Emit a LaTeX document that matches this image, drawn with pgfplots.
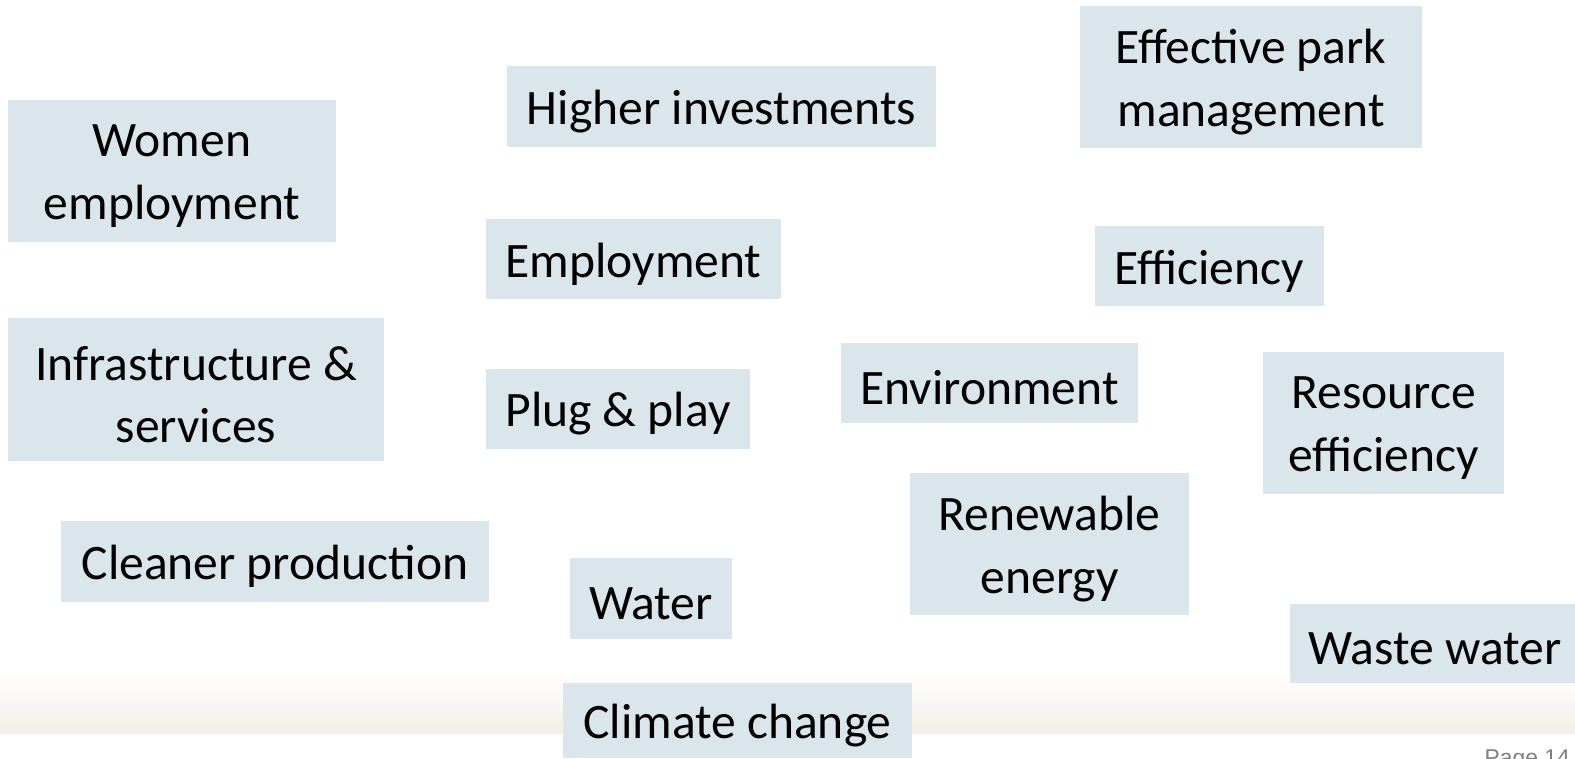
\documentclass[border=0pt]{standalone}
\usepackage{pgfplots}
\pgfplotsset{compat=1.18}
\usepackage{fontspec}
\setmainfont{Carlito}
\newfontfamily\pagefont{Liberation Sans}
\definecolor{boxc}{HTML}{DAE6EC}
\definecolor{bandc}{HTML}{F3EFE8}
\definecolor{pagec}{HTML}{7F7F7F}
\newcommand{\bx}[5]{%
  \fill[boxc] (axis cs:#1,#2) rectangle (axis cs:#3,#4);
  \node[align=center, inner sep=0pt, yshift=-0.05cm, font=\fontsize{14.1pt}{17.7pt}\selectfont] at (axis cs:{(#1+#3)/2},{(#2+#4)/2}) {#5};
}
\begin{document}
\begin{tikzpicture}
\path[use as bounding box, clip] (0,0) rectangle (15.75cm,7.58cm);
\fill[white] (0,0) rectangle (15.75cm,7.58cm);
\begin{axis}[at={(0,0)}, anchor=south west, scale only axis,
  width=15.75cm, height=7.58cm, xmin=0, xmax=1575, ymin=0, ymax=758,
  y dir=reverse, hide axis, clip=false]
\addplot[draw=none] coordinates {(0,0) (1575,758)};
\fill[top color=white, bottom color=bandc] (axis cs:0,670) rectangle (axis cs:1575,733);
\bx{8}{100}{336}{242}{Women\\employment}
\bx{507}{66}{936}{147}{Higher investments}
\bx{1080}{6}{1422}{148}{Effective park\\management}
\bx{486}{219}{781}{299}{Employment}
\bx{1095}{226}{1324}{306}{Efficiency}
\bx{8}{318}{384}{461}{Infrastructure \&\\services}
\bx{486}{369}{750}{449}{Plug \& play}
\bx{841}{343}{1138}{423}{Environment}
\bx{1263}{352}{1504}{494}{Resource\\efficiency}
\bx{910}{473}{1189}{615}{Renewable\\energy}
\bx{61}{521}{489}{602}{Cleaner production}
\bx{570}{558}{732}{639}{Water}
\bx{1290}{604}{1580}{683}{Waste water}
\bx{563}{683}{912}{758}{Climate change}
\node[anchor=north west, inner sep=0pt, text=pagec, font=\pagefont\fontsize{6.5pt}{7.5pt}\selectfont] at (axis cs:1484,749) {Page 14};
\end{axis}
\end{tikzpicture}
\end{document}
